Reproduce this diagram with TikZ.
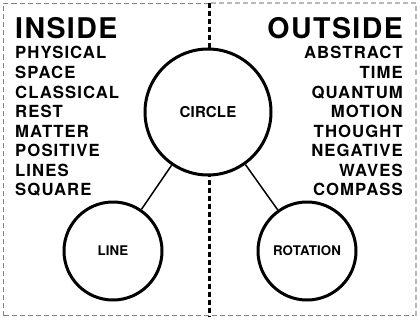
\documentclass[tikz,border=0pt]{standalone}
\usepackage{fontspec}
\setmainfont{TeX Gyre Heros}
\newfontfamily\headfont{TeX Gyre Heros}[LetterSpace=5]
\newfontfamily\itemfont{TeX Gyre Heros}[LetterSpace=6.5]
\newfontfamily\circfont{TeX Gyre Heros}[LetterSpace=1]
\definecolor{framedark}{HTML}{808080}
\definecolor{framelight}{HTML}{B8B8B8}
\begin{document}
\begin{tikzpicture}[x=1pt,y=-1pt,
  framea/.style={draw=framedark,line width=1pt,dash pattern=on 5pt off 3pt},
  frameb/.style={draw=framelight,line width=2pt,dash pattern=on 5pt off 3pt},
  divider/.style={draw=black,line width=2.5pt,dash pattern=on 5pt off 3pt},
  heading/.style={inner sep=0pt,font=\headfont\bfseries\fontsize{28.5}{30}\selectfont},
  item/.style={inner sep=0pt,font=\itemfont\bfseries\fontsize{16.7}{18}\selectfont},
  bubble/.style={circle,draw=black,line width=3pt,fill=white,inner sep=0pt,font=\circfont\bfseries},
  link/.style={draw=black,line width=1.5pt}]
\useasboundingbox (0,0) rectangle (420,321);
% frame
\draw[framea] (3.5,315.5) -- (3.5,3.5) -- (209,3.5);
\draw[framea] (3.5,315.5) -- (414,315.5);
\draw[frameb] (210.5,3.5) -- (415.5,3.5) -- (415.5,315.5);
\coordinate (divtop) at (209.5,3.5);
\coordinate (divbot) at (209.5,316);
\draw[divider] (divtop) -- (divbot);
% bubbles
\node[bubble,minimum size=126pt,font=\circfont\bfseries\fontsize{15}{16}\selectfont] (circ) at (208,112) {CIRCLE};
\node[bubble,minimum size=98pt,font=\circfont\bfseries\fontsize{13.3}{14}\selectfont] (line) at (113,251) {LINE};
\node[bubble,minimum size=98pt,font=\circfont\bfseries\fontsize{13.3}{14}\selectfont] (rot) at (307,251) {ROTATION};
\draw[link] (circ) -- (line);
\draw[link] (circ) -- (rot);
% headings
\node[heading,anchor=base west] (inside) at (15,38.5) {INSIDE};
\node[heading,anchor=base east] (outside) at (403,38.5) {OUTSIDE};
% items
\foreach \t [count=\i from 0] in {PHYSICAL,SPACE,CLASSICAL,REST,MATTER,POSITIVE,LINES,SQUARE}
  \node[item,anchor=base west] (l\i) at (15,59+19.5*\i) {\t};
\foreach \t [count=\i from 0] in {ABSTRACT,TIME,QUANTUM,MOTION,THOUGHT,NEGATIVE,WAVES,COMPASS}
  \node[item,anchor=base east] (r\i) at (403,59+19.5*\i) {\t};
\end{tikzpicture}
\end{document}
